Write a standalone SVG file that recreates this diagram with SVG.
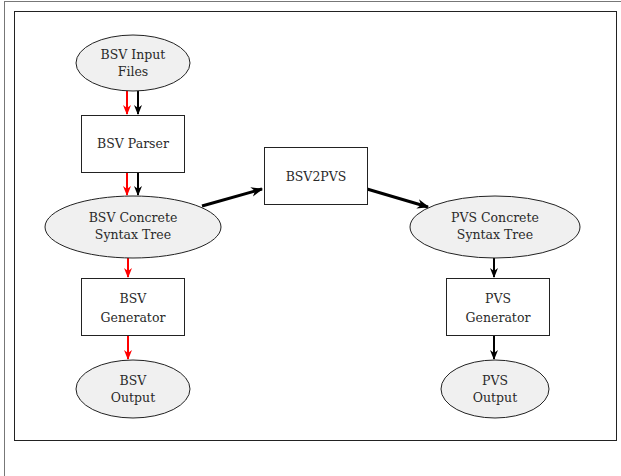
<svg xmlns="http://www.w3.org/2000/svg" width="621" height="476" viewBox="0 0 621 476">
<style>
.ell{fill:#f0f0f0;stroke:#222;stroke-width:1}
.box{fill:#fff;stroke:#222;stroke-width:1}
text{font-family:'DejaVu Serif','Liberation Serif',serif;font-size:12.5px;fill:#2a2a2a;text-anchor:middle}
.r{stroke:#ff0000;stroke-width:2;fill:none}
.k{stroke:#000;stroke-width:2;fill:none}
.kt{stroke:#000;stroke-width:3;fill:none}
</style>
<defs>
<marker id="ar" viewBox="0 0 10 10" refX="9" refY="5" markerWidth="10" markerHeight="10" orient="auto" markerUnits="userSpaceOnUse">
<path d="M0,1 L10,5 L0,9 L3,5 Z" fill="#ff0000"/>
</marker>
<marker id="ak" viewBox="0 0 10 10" refX="9" refY="5" markerWidth="10" markerHeight="10" orient="auto" markerUnits="userSpaceOnUse">
<path d="M0,1 L10,5 L0,9 L3,5 Z" fill="#000"/>
</marker>
<marker id="akt" viewBox="0 0 10 10" refX="9" refY="5" markerWidth="12" markerHeight="12" orient="auto" markerUnits="userSpaceOnUse">
<path d="M0,1 L10,5 L0,9 L3,5 Z" fill="#000"/>
</marker>
</defs>
<rect x="4.5" y="1.5" width="630" height="490" fill="#fff" stroke="#777" stroke-width="1"/>
<rect x="14.5" y="11.5" width="602" height="429" fill="#fff" stroke="#222" stroke-width="1"/>

<g id="connectors">
<line class="r" x1="127" y1="91" x2="127" y2="114" marker-end="url(#ar)"/>
<line class="k" x1="138" y1="91" x2="138" y2="114" marker-end="url(#ak)"/>
<line class="r" x1="127" y1="172" x2="127" y2="195" marker-end="url(#ar)"/>
<line class="k" x1="138" y1="172" x2="138" y2="195" marker-end="url(#ak)"/>
<line class="r" x1="128" y1="258" x2="128" y2="277" marker-end="url(#ar)"/>
<line class="r" x1="128" y1="336" x2="128" y2="359" marker-end="url(#ar)"/>
<line class="kt" x1="202" y1="206" x2="262" y2="189" marker-end="url(#akt)"/>
<line class="kt" x1="367" y1="189" x2="428" y2="207" marker-end="url(#akt)"/>
<line class="k" x1="494" y1="258" x2="494" y2="277" marker-end="url(#ak)"/>
<line class="k" x1="494" y1="336" x2="494" y2="359" marker-end="url(#ak)"/>
</g>

<g id="bsv-input">
<ellipse class="ell" cx="133" cy="63" rx="57" ry="28"/>
<text x="133" y="59">BSV Input</text>
<text x="133" y="76">Files</text>
</g>
<g id="bsv-parser">
<rect class="box" x="81.5" y="115.5" width="103" height="57"/>
<text x="133" y="148">BSV Parser</text>
</g>
<g id="bsv-cst">
<ellipse class="ell" cx="133" cy="227" rx="88" ry="31"/>
<text x="133" y="222">BSV Concrete</text>
<text x="133" y="239">Syntax Tree</text>
</g>
<g id="bsv-generator">
<rect class="box" x="81.5" y="278.5" width="103" height="57"/>
<text x="133" y="303">BSV</text>
<text x="133" y="322">Generator</text>
</g>
<g id="bsv-output">
<ellipse class="ell" cx="133" cy="389" rx="57" ry="29"/>
<text x="133" y="385">BSV</text>
<text x="133" y="402">Output</text>
</g>
<g id="bsv2pvs">
<rect class="box" x="264.5" y="147.5" width="103" height="57"/>
<text x="316" y="181">BSV2PVS</text>
</g>
<g id="pvs-cst">
<ellipse class="ell" cx="495" cy="227" rx="85" ry="31"/>
<text x="495" y="222">PVS Concrete</text>
<text x="495" y="239">Syntax Tree</text>
</g>
<g id="pvs-generator">
<rect class="box" x="446.5" y="278.5" width="103" height="57"/>
<text x="498" y="303">PVS</text>
<text x="498" y="322">Generator</text>
</g>
<g id="pvs-output">
<ellipse class="ell" cx="495" cy="389" rx="54" ry="29"/>
<text x="495" y="385">PVS</text>
<text x="495" y="402">Output</text>
</g>
</svg>
